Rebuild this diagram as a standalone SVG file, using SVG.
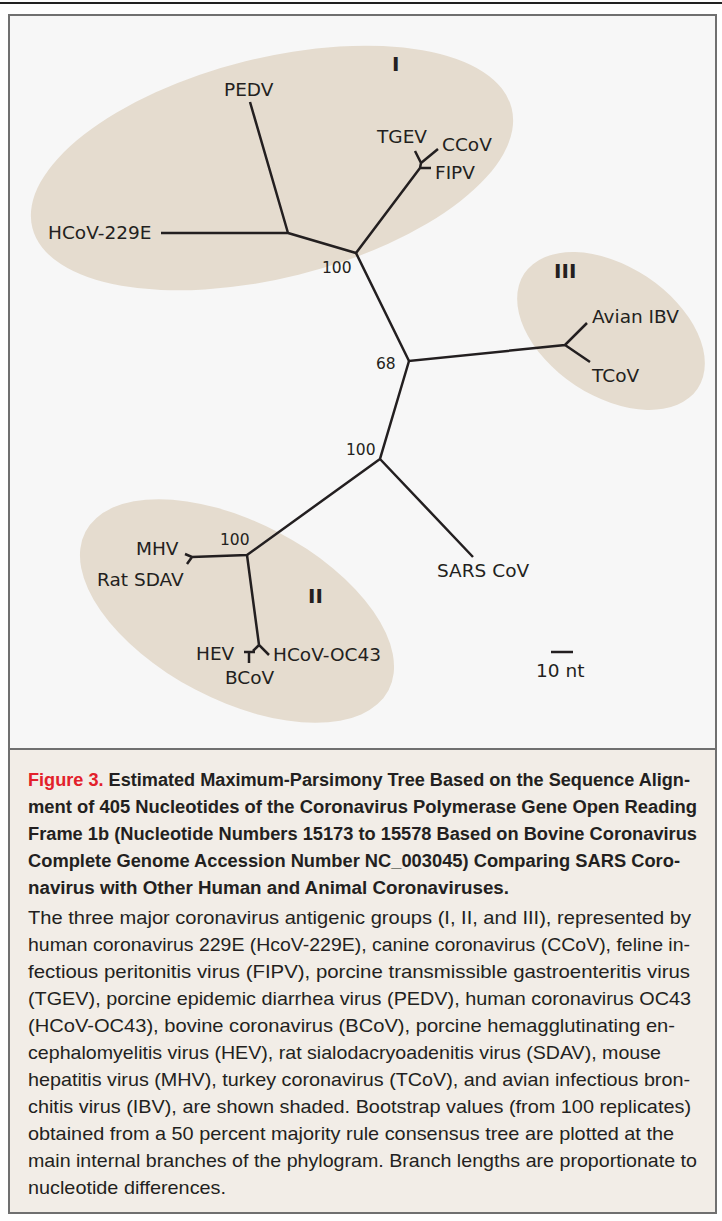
<svg xmlns="http://www.w3.org/2000/svg" width="722" height="1221" viewBox="0 0 722 1221">
<style>
.lbl{font-family:"DejaVu Sans",sans-serif;font-size:18.5px;fill:#231f20}
.num{font-family:"DejaVu Sans",sans-serif;font-size:15.5px;fill:#231f20}
.rom{font-family:"DejaVu Sans",sans-serif;font-size:20px;font-weight:bold;fill:#231f20}
.clu{fill:#e5dccf}
.br{stroke:#231f20;stroke-width:2.5;fill:none;stroke-linecap:butt}
.hd{font-family:"Liberation Sans",Arial,sans-serif;font-size:18px;font-weight:bold;fill:#231f20}
.bd{font-family:"Liberation Sans",Arial,sans-serif;font-size:19px;fill:#231f20}
.red{fill:#e3212b}
</style>
<rect x="0" y="0" width="722" height="1221" fill="#ffffff"/>
<line x1="0" y1="3" x2="722" y2="3" stroke="#222" stroke-width="2"/>
<rect x="9" y="15" width="707" height="734" fill="#f7f7f7"/>
<rect x="9" y="749" width="707" height="464" fill="#f2ede7"/>
<line x1="9" y1="749" x2="716" y2="749" stroke="#707070" stroke-width="2"/>
<rect x="9" y="15" width="707" height="1198" fill="none" stroke="#707070" stroke-width="2"/>

<g id="cluster-I"><ellipse class="clu" cx="272" cy="168" rx="247" ry="110" transform="rotate(-14 272 168)"/><text class="rom" x="392" y="71">I</text></g>
<g id="cluster-III"><ellipse class="clu" cx="611" cy="331" rx="104" ry="65" transform="rotate(33.5 611 331)"/><text class="rom" x="554" y="278">III</text></g>
<g id="cluster-II"><ellipse class="clu" cx="237" cy="611" rx="171" ry="89" transform="rotate(27.6 237 611)"/><text class="rom" x="308" y="603">II</text></g>

<g id="connectors">
<path class="br" d="M288,233 L250,102 M288,233 L161,233 M288,233 L356,253 L420,168 L431,168 M420,168 L421,163 L415,151 M421,163 L438,149"/>
<path class="br" d="M356,253 L409,361 L565,345 L587,323 M565,345 L590,362"/>
<path class="br" d="M409,361 L380,459 L473,557 M380,459 L247,555 L192,557 L185,554 M192,557 L187,564"/>
<path class="br" d="M247,555 L259,645 L269,655 M259,645 L253,651 M244,652 L255,652 M249,652 L249,663"/>
</g>

<g id="n-PEDV"><text class="lbl" x="224" y="96">PEDV</text></g>
<g id="n-HCoV-229E"><text class="lbl" x="48" y="239">HCoV-229E</text></g>
<g id="n-TGEV"><text class="lbl" x="377" y="143">TGEV</text></g>
<g id="n-CCoV"><text class="lbl" x="442" y="151">CCoV</text></g>
<g id="n-FIPV"><text class="lbl" x="435" y="179">FIPV</text></g>
<g id="n-boot-I"><text class="num" x="322" y="273">100</text></g>
<g id="n-boot-68"><text class="num" x="376" y="369">68</text></g>
<g id="n-AvianIBV"><text class="lbl" x="592" y="323">Avian IBV</text></g>
<g id="n-TCoV"><text class="lbl" x="592" y="382">TCoV</text></g>
<g id="n-boot-root"><text class="num" x="346" y="455">100</text></g>
<g id="n-SARS"><text class="lbl" x="437" y="577">SARS CoV</text></g>
<g id="n-boot-II"><text class="num" x="220" y="545">100</text></g>
<g id="n-MHV"><text class="lbl" x="136" y="555">MHV</text></g>
<g id="n-RatSDAV"><text class="lbl" x="97" y="586">Rat SDAV</text></g>
<g id="n-HEV"><text class="lbl" x="196" y="660">HEV</text></g>
<g id="n-BCoV"><text class="lbl" x="225" y="684">BCoV</text></g>
<g id="n-HCoV-OC43"><text class="lbl" x="273" y="661">HCoV-OC43</text></g>
<g id="scale"><line x1="551" y1="652" x2="573" y2="652" stroke="#231f20" stroke-width="2.5"/><text class="lbl" x="536" y="677">10 nt</text></g>

<g id="caption">
<text class="hd" x="28" y="786" textLength="662" lengthAdjust="spacingAndGlyphs"><tspan class="red">Figure 3.</tspan> Estimated Maximum-Parsimony Tree Based on the Sequence Align-</text>
<text class="hd" x="28" y="813" textLength="669" lengthAdjust="spacingAndGlyphs">ment of 405 Nucleotides of the Coronavirus Polymerase Gene Open Reading</text>
<text class="hd" x="28" y="840" textLength="669" lengthAdjust="spacingAndGlyphs">Frame 1b (Nucleotide Numbers 15173 to 15578 Based on Bovine Coronavirus</text>
<text class="hd" x="28" y="867" textLength="652" lengthAdjust="spacingAndGlyphs">Complete Genome Accession Number NC_003045) Comparing SARS Coro-</text>
<text class="hd" x="28" y="894" textLength="481" lengthAdjust="spacingAndGlyphs">navirus with Other Human and Animal Coronaviruses.</text>
<text class="bd" x="28" y="924" textLength="663" lengthAdjust="spacingAndGlyphs">The three major coronavirus antigenic groups (I, II, and III), represented by</text>
<text class="bd" x="28" y="951" textLength="662" lengthAdjust="spacingAndGlyphs">human coronavirus 229E (HcoV-229E), canine coronavirus (CCoV), feline in-</text>
<text class="bd" x="28" y="978" textLength="662" lengthAdjust="spacingAndGlyphs">fectious peritonitis virus (FIPV), porcine transmissible gastroenteritis virus</text>
<text class="bd" x="28" y="1005" textLength="663" lengthAdjust="spacingAndGlyphs">(TGEV), porcine epidemic diarrhea virus (PEDV), human coronavirus OC43</text>
<text class="bd" x="28" y="1032" textLength="647" lengthAdjust="spacingAndGlyphs">(HCoV-OC43), bovine coronavirus (BCoV), porcine hemagglutinating en-</text>
<text class="bd" x="28" y="1059" textLength="633" lengthAdjust="spacingAndGlyphs">cephalomyelitis virus (HEV), rat sialodacryoadenitis virus (SDAV), mouse</text>
<text class="bd" x="28" y="1086" textLength="662" lengthAdjust="spacingAndGlyphs">hepatitis virus (MHV), turkey coronavirus (TCoV), and avian infectious bron-</text>
<text class="bd" x="28" y="1113" textLength="663" lengthAdjust="spacingAndGlyphs">chitis virus (IBV), are shown shaded. Bootstrap values (from 100 replicates)</text>
<text class="bd" x="28" y="1140" textLength="646" lengthAdjust="spacingAndGlyphs">obtained from a 50 percent majority rule consensus tree are plotted at the</text>
<text class="bd" x="28" y="1167" textLength="669" lengthAdjust="spacingAndGlyphs">main internal branches of the phylogram. Branch lengths are proportionate to</text>
<text class="bd" x="28" y="1194" textLength="198" lengthAdjust="spacingAndGlyphs">nucleotide differences.</text>
</g>
</svg>
